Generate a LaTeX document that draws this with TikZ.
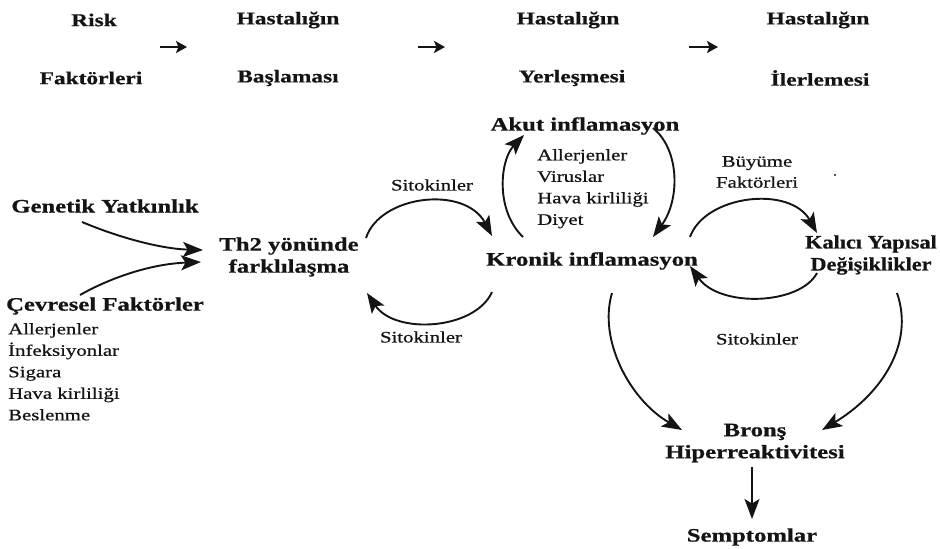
\documentclass[tikz,border=0pt]{standalone}
\usepackage{fontspec}
\setmainfont{Liberation Serif}[FakeStretch=1.3,FakeBold=0.7]
\newfontfamily\kalfont{Liberation Serif}[FakeStretch=1.17,FakeBold=0.7]
\usetikzlibrary{arrows.meta,calc}
\definecolor{ink}{RGB}{20,20,20}
\begin{document}
\begin{tikzpicture}[x=1pt,y=-1pt,
  hdr/.style={font=\fontsize{18}{20}\selectfont\bfseries, text=ink, inner sep=0pt},
  bold/.style={font=\fontsize{19}{22}\selectfont\bfseries, text=ink, inner sep=0pt, align=center},
  boldnarrow/.style={font=\fontsize{19}{22}\selectfont\kalfont\bfseries, text=ink, inner sep=0pt, align=center},
  reg/.style={font=\fontsize{16}{21}\selectfont, text=ink, inner sep=0pt, align=center},
  lst/.style={font=\fontsize{16}{21.5}\selectfont, text=ink, inner sep=0pt, align=left, anchor=north west},
  conn/.style={draw=ink, line width=1.9pt, -{Stealth[length=20pt,width=15pt,inset=4.5pt]}},
  straight/.style={draw=ink, line width=1.5pt, -{Stealth[length=20pt,width=15pt,inset=4.5pt]}},
  hdrarrow/.style={draw=ink, line width=2.4pt, -{Stealth[length=11pt,width=12pt,inset=2.5pt]}}
]
\useasboundingbox (0,0) rectangle (940,549);

% header
\node[hdr] (risk) at (94,20) {Risk};
\node[hdr] (fakt) at (91,78) {Faktörleri};
\node[hdr] (has1) at (288,20) {Hastalığın};
\node[hdr] (bas)  at (288,78) {Başlaması};
\node[hdr] (has2) at (568,20) {Hastalığın};
\node[hdr] (yer)  at (572,78) {Yerleşmesi};
\node[hdr] (has3) at (818,20) {Hastalığın};
\node[hdr] (iler) at (820,78) {İlerlemesi};
\coordinate (h1s) at (160,47); \coordinate (h1e) at (187,47);
\coordinate (h2s) at (418,47); \coordinate (h2e) at (445,47);
\coordinate (h3s) at (689,47); \coordinate (h3e) at (718,47);
\draw[hdrarrow] (h1s) -- (h1e);
\draw[hdrarrow] (h2s) -- (h2e);
\draw[hdrarrow] (h3s) -- (h3e);

% main nodes
\node[bold] (gen) at (105,206) {Genetik Yatkınlık};
\node[bold] (cev) at (105,306) {Çevresel Faktörler};
\node[lst] (cevl) at (8,323) {Allerjenler\\İnfeksiyonlar\\Sigara\\Hava kirliliği\\Beslenme};
\node[bold] (th2) at (289,257) {Th2 yönünde\\farklılaşma};
\node[reg] (sit1) at (432,185) {Sitokinler};
\node[reg] (sit2) at (421,337) {Sitokinler};
\node[bold] (kron) at (592,261) {Kronik inflamasyon};
\node[bold] (akut) at (585,126) {Akut inflamasyon};
\node[lst] (akl) at (537,149) {Allerjenler\\Viruslar\\Hava kirliliği\\Diyet};
\node[reg] (buy) at (757,172) {Büyüme\\Faktörleri};
\node[boldnarrow] (kal) at (871,255) {Kalıcı Yapısal\\Değişiklikler};
\node[reg] (sit3) at (757,339) {Sitokinler};
\node[bold] (bron) at (755,443) {Bronş\\Hiperreaktivitesi};
\node[bold] (semp) at (752,537) {Semptomlar};
\fill[ink] (835,175) circle (1.2pt);

% connectors
\draw[conn] ($(gen.center)+(-23,16)$) .. controls (125,240) and (165,249) .. ($(th2.center)+(-86,-7)$);
\draw[conn] ($(cev.center)+(-25,-11)$) .. controls (110,278) and (150,264) .. ($(th2.center)+(-88,5)$);
\draw[conn] ($(th2.center)+(77,-19)$) .. controls (380,195) and (465,185) .. ($(kron.center)+(-100,-25)$);
\draw[conn] ($(kron.center)+(-100,31)$) .. controls (475,330) and (395,335) .. ($(th2.center)+(78,36)$);
\draw[conn] ($(kron.center)+(-69,-24)$) .. controls (495,210) and (500,160) .. ($(akut.center)+(-61,9)$);
\draw[conn] ($(akut.center)+(68,2)$) .. controls (680,150) and (680,200) .. ($(kron.center)+(61,-24)$);
\draw[conn] ($(kron.center)+(98,-24)$) .. controls (705,195) and (790,185) .. ($(kal.center)+(-54,-22)$);
\draw[conn] ($(kal.center)+(-54,18)$) .. controls (800,305) and (720,308) .. ($(kron.center)+(98,5)$);
\draw[conn] ($(kron.center)+(20,32)$) .. controls (598,340) and (630,400) .. ($(bron.center)+(-73,-13)$);
\draw[conn] ($(kal.center)+(26,38)$) .. controls (915,345) and (880,395) .. ($(bron.center)+(67,-13)$);
\draw[straight] ($(bron.center)+(-3,24)$) -- ($(semp.center)+(0,-18)$);
\end{tikzpicture}
\end{document}
